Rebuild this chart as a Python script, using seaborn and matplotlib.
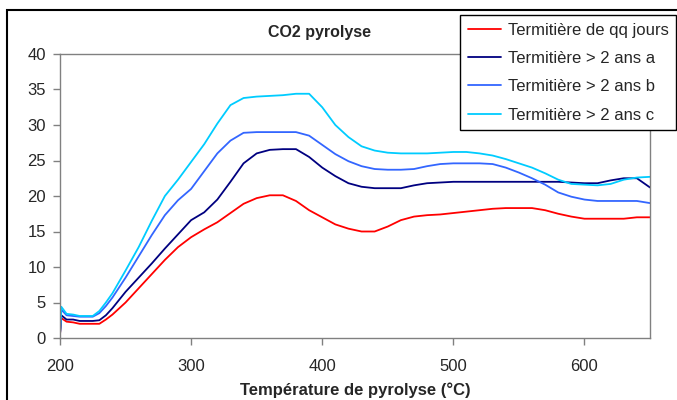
import pandas as pd
import matplotlib
matplotlib.use("Agg")
import matplotlib.pyplot as plt
import seaborn as sns
from matplotlib.patches import Rectangle

# temperature grid (°C) and CO2 signal
temperature = [200, 201, 205, 210, 215, 220, 225, 230, 235, 240,
               250, 260, 270, 280, 290, 300, 310, 320, 330, 340,
               350, 360, 370, 380, 390, 400, 410, 420, 430, 440,
               450, 460, 470, 480, 490, 500, 510, 520, 530, 540,
               550, 560, 570, 580, 590, 600, 610, 620, 630, 640, 650]

qq_jours = [0.5, 2.8, 2.3, 2.2, 2.0, 2.0, 2.0, 2.0, 2.6, 3.3,
            5.0, 7.0, 9.0, 11.0, 12.8, 14.2, 15.3, 16.3, 17.6, 18.9,
            19.7, 20.1, 20.1, 19.3, 18.0, 17.0, 16.0, 15.4, 15.0, 15.0,
            15.7, 16.6, 17.1, 17.3, 17.4, 17.6, 17.8, 18.0, 18.2, 18.3,
            18.3, 18.3, 18.0, 17.5, 17.1, 16.8, 16.8, 16.8, 16.8, 17.0, 17.0]

ans_a = [0.5, 3.2, 2.6, 2.6, 2.4, 2.4, 2.4, 2.5, 3.2, 4.2,
         6.5, 8.5, 10.5, 12.6, 14.6, 16.6, 17.7, 19.5, 22.0, 24.6,
         26.0, 26.5, 26.6, 26.6, 25.5, 24.0, 22.8, 21.8, 21.3, 21.1,
         21.1, 21.1, 21.5, 21.8, 21.9, 22.0, 22.0, 22.0, 22.0, 22.0,
         22.0, 22.0, 22.0, 22.0, 21.9, 21.8, 21.8, 22.2, 22.5, 22.5, 21.2]

ans_b = [0.5, 4.0, 3.2, 3.1, 3.0, 3.0, 3.0, 3.5, 4.5, 5.7,
         8.5, 11.5, 14.5, 17.3, 19.4, 21.0, 23.5, 26.0, 27.8, 28.9,
         29.0, 29.0, 29.0, 29.0, 28.5, 27.2, 25.9, 24.9, 24.2, 23.8,
         23.7, 23.7, 23.8, 24.2, 24.5, 24.6, 24.6, 24.6, 24.5, 24.0,
         23.3, 22.5, 21.6, 20.5, 19.9, 19.5, 19.3, 19.3, 19.3, 19.3, 19.0]

ans_c = [0.5, 4.4, 3.4, 3.3, 3.1, 3.1, 3.1, 3.8, 5.0, 6.3,
         9.5, 12.8, 16.5, 20.0, 22.3, 24.8, 27.3, 30.2, 32.8, 33.8,
         34.0, 34.1, 34.2, 34.4, 34.4, 32.5, 30.0, 28.3, 27.0, 26.4,
         26.1, 26.0, 26.0, 26.0, 26.1, 26.2, 26.2, 26.0, 25.7, 25.2,
         24.6, 24.0, 23.2, 22.3, 21.7, 21.6, 21.5, 21.7, 22.3, 22.6, 22.7]

series_names = ["Termitière de qq jours", "Termitière > 2 ans a",
                "Termitière > 2 ans b", "Termitière > 2 ans c"]
series_colors = ["#ff0000", "#000080", "#3366ff", "#00ccff"]

frames = []
for name, vals in zip(series_names, [qq_jours, ans_a, ans_b, ans_c]):
    frames.append(pd.DataFrame({"T": temperature, "CO2": vals, "serie": name}))
df = pd.concat(frames, ignore_index=True)

sns.set_style("white")
plt.rcParams["font.family"] = ["Liberation Sans", "DejaVu Sans"]

fig = plt.figure(figsize=(6.77, 4.0), dpi=100)
ax = fig.add_axes([60 / 677, 1 - 338 / 400, 590 / 677, 284 / 400])

sns.lineplot(data=df, x="T", y="CO2", hue="serie", hue_order=series_names,
             palette=series_colors, linewidth=1.3, ax=ax, legend=False)

ax.set_xlim(200, 650)
ax.set_ylim(0, 40)
ax.set_xticks([200, 300, 400, 500, 600])
ax.set_yticks(range(0, 41, 5))
ax.tick_params(axis="both", labelsize=12, direction="out", length=5,
               width=1, color="#808080", left=True, bottom=True)
ax.tick_params(axis="x", pad=10)
ax.tick_params(axis="y", pad=5)
for side in ["left", "bottom", "top", "right"]:
    ax.spines[side].set_color("#808080")
    ax.spines[side].set_linewidth(1)
ax.set_ylabel("")
ax.set_xlabel("Température de pyrolyse (°C)", fontsize=12, fontweight="bold", labelpad=6)
fig.text(320 / 677, 1 - 32 / 400, "CO2 pyrolyse", ha="center", va="center",
         fontsize=11.5, fontweight="bold")

# legend placed like the spreadsheet original, partly off the figure
handles = [plt.Line2D([], [], color=c, lw=1.3) for c in series_colors]
leg = fig.legend(handles, series_names, loc="upper left",
                 bbox_to_anchor=(460 / 677, 1 - 15 / 400), borderaxespad=0,
                 fontsize=12, frameon=True, fancybox=False, framealpha=1,
                 handlelength=2.0, handletextpad=0.4, labelspacing=0.8,
                 borderpad=0.45)
leg.get_frame().set_edgecolor("black")
leg.get_frame().set_linewidth(1)

# outer chart border
fig.patches.append(Rectangle((7 / 677, -0.05), 1.2, 1 - 10 / 400 + 0.05,
                             transform=fig.transFigure, fill=False,
                             edgecolor="black", linewidth=1.5, zorder=-1))

fig.savefig("out.png", dpi=100)
